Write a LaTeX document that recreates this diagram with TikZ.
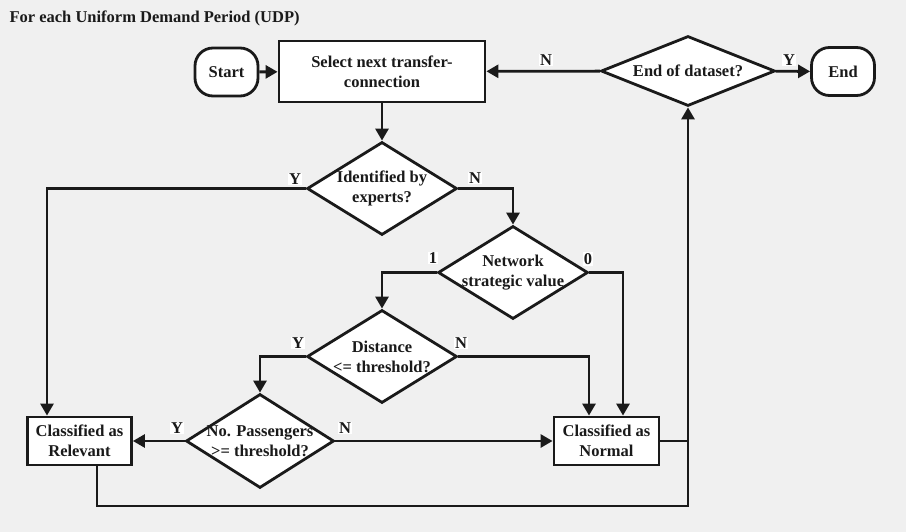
\documentclass[tikz,border=0pt]{standalone}
\usepackage{fontspec}
\setmainfont{Liberation Serif}
\usetikzlibrary{shapes.geometric,arrows.meta,calc}
\definecolor{bg}{HTML}{F0F0F0}
\definecolor{ink}{HTML}{1A1A1A}
\begin{document}
\begin{tikzpicture}[x=1pt,y=-1pt,
  every node/.style={font=\fontsize{16.5}{20}\selectfont\bfseries, text=ink},
  box/.style={draw=ink, line width=2.8pt, fill=white, minimum width=#1, minimum height=61pt, align=center, inner sep=2pt},
  term/.style={draw=ink, line width=2.8pt, fill=white, rounded corners=18pt, minimum width=63pt, minimum height=48pt, inner sep=0pt},
  dec/.style={diamond, draw=ink, line width=2.8pt, fill=white, inner sep=0pt, aspect=1.6},
  lab/.style={fill=white, inner sep=1pt},
  line/.style={draw=ink, line width=2.8pt},
  arr/.style={line, -{Triangle[length=12pt,width=13pt]}}
]
\fill[bg] (0,0) rectangle (906,532);
\useasboundingbox (0,0) rectangle (906,532);
\node[anchor=west] (title) at (6,18) {For each Uniform Demand Period (UDP)};

\node[term] (start) at (226.5,72) {Start};
\node[box=206pt] (sel) at (382,71.5) {Select next transfer-\\connection};
\node[term] (end) at (843,71.5) {End};

\node[dec, minimum width=174pt, minimum height=70pt] (eod) at (688,71) {};
\node (eodt) at (eod.center) {End of dataset?};

\node[dec, minimum width=150pt, minimum height=93pt] (d1) at (382,188.5) {};
\node[align=center] (d1t) at (d1.center) {Identified by\\experts?};

\node[dec, minimum width=150pt, minimum height=93pt] (d2) at (513,272.5) {};
\node[align=center] (d2t) at (d2.center) {Network\\strategic value};

\node[dec, minimum width=150pt, minimum height=93pt] (d3) at (382,356.5) {};
\node[align=center] (d3t) at (d3.center) {Distance\\<= threshold?};

\node[dec, minimum width=148pt, minimum height=94pt] (d4) at (260,441) {};
\node[align=center] (d4t) at (d4.center) {No. Passengers\\>= threshold?};

\node[box=104pt, minimum height=48pt] (rel) at (79.5,441) {Classified as\\Relevant};
\node[box=105pt, minimum height=48pt] (norm) at (606.5,441) {Classified as\\Normal};

\coordinate (jn) at (688,506);

% connectors
\draw[arr] (start) -- (sel);
\draw[arr] (sel) -- (d1);
\draw[arr] (eod) -- (sel);
\draw[arr] (eod) -- (end);
\draw[arr] (d1.west) -| ([xshift=-32.5pt]rel.north);
\draw[arr] (d1.east) -| (d2.north);
\draw[arr] (d2.west) -| (d3.north);
\draw[arr] (d2.east) -| ([xshift=16.5pt]norm.north);
\draw[arr] (d3.west) -| (d4.north);
\draw[arr] (d3.east) -| ([xshift=-17.5pt]norm.north);
\draw[arr] (d4.west) -- (d4.west -| rel.east);
\draw[arr] (d4.east) -- (d4.east -| norm.west);
\draw[line] (norm.east) -- (norm.east -| jn);
\draw[arr] ([xshift=17.5pt]rel.south) |- (jn) -- (eod.south);

% labels
\node[lab] (ly1) at (295,179) {Y};
\node[lab] (ln1) at (475,178) {N};
\node[lab] (l1) at (433,258) {1};
\node[lab] (l0) at (588,259) {0};
\node[lab] (ly3) at (298,343) {Y};
\node[lab] (ln3) at (461,343) {N};
\node[lab] (ly4) at (177,428) {Y};
\node[lab] (ln4) at (345,428) {N};
\node[lab] (lne) at (546,60) {N};
\node[lab] (lye) at (789,60) {Y};
\end{tikzpicture}
\end{document}
